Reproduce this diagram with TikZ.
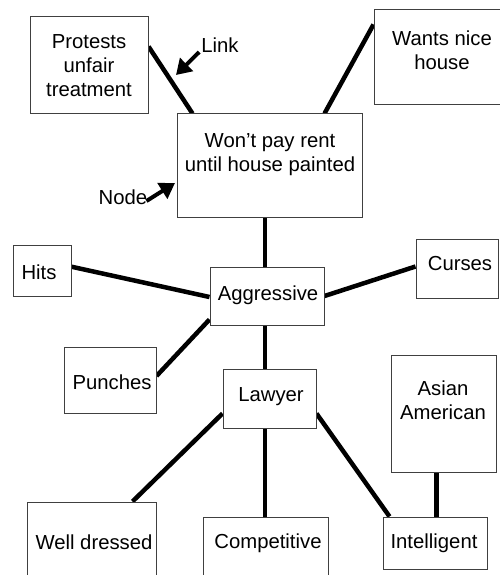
\documentclass[tikz,border=0pt]{standalone}
\usepackage{fontspec}
\setmainfont{Liberation Sans}
\usetikzlibrary{arrows.meta,calc,backgrounds}
\begin{document}
\begin{tikzpicture}[x=1pt,y=-1pt,
  box/.style={draw=black!75,line width=1pt,rectangle,inner sep=0pt,fill=white},
  txt/.style={inner sep=0pt,align=center,text=black,font=\fontsize{20.3}{24}\selectfont},
  conn/.style={line width=4.5pt,draw=black},
  ptr/.style={line width=4pt,draw=black,-{Triangle[length=15pt,width=18pt]}}]
\useasboundingbox (0,0) rectangle (500,575);
\clip (0,0) rectangle (500,575);
% boxes
\node[box,minimum width=118pt,minimum height=97pt] (prot) at (89,65.5) {};
\node[box,minimum width=185pt,minimum height=103pt] (wont) at (269.5,165.5) {};
\node[box,minimum width=136pt,minimum height=95pt] (wants) at (442,57.5) {};
\node[box,minimum width=58pt,minimum height=51pt] (hits) at (42,270.5) {};
\node[box,minimum width=114pt,minimum height=58pt] (aggr) at (267,296) {};
\node[box,minimum width=82pt,minimum height=59pt] (curses) at (457,268.5) {};
\node[box,minimum width=92pt,minimum height=66pt] (punches) at (110,380) {};
\node[box,minimum width=93pt,minimum height=59pt] (lawyer) at (269.5,398.5) {};
\node[box,minimum width=105pt,minimum height=117pt] (asian) at (443.5,413.5) {};
\node[box,minimum width=129pt,minimum height=98pt] (well) at (91.5,551) {};
\node[box,minimum width=125pt,minimum height=83pt] (comp) at (265.5,558.5) {};
\node[box,minimum width=104pt,minimum height=52pt] (intel) at (435,543) {};
% texts
\node[txt] (prot-t) at (89,66) {Protests\\unfair\\treatment};
\node[txt] (wont-t) at (270,155) {Won’t pay rent\\until house painted};
\node[txt] (wants-t) at (442,50) {Wants nice\\house};
\node[txt] (hits-t) at (39,272) {Hits};
\node[txt] (aggr-t) at (268,295) {Aggressive};
\node[txt] (curses-t) at (460,264) {Curses};
\node[txt] (punches-t) at (112,382) {Punches};
\node[txt] (lawyer-t) at (271,397) {Lawyer};
\node[txt] (asian-t) at (443,400) {Asian\\American};
\node[txt] (well-t) at (94,542) {Well dressed};
\node[txt] (comp-t) at (268,543) {Competitive};
\node[txt] (intel-t) at (434,543) {Intelligent};
% labels
\node[txt] (linklbl) at (220,45) {Link};
\node[txt] (nodelbl) at (123,197) {Node};
\coordinate (linktip) at (176,75);
\coordinate (nodetip) at (175,183);
\draw[ptr] ($(linklbl.west)+(-2,7)$) -- (linktip);
\draw[ptr] ($(nodelbl.east)+(-1,4)$) -- (nodetip);
% connectors
\begin{scope}[on background layer]
\draw[conn] ($(prot.north east)+(0,30)$) -- ($(wont.north west)+(16,0)$);
\draw[conn] ($(wants.north west)+(0,15)$) -- ($(wont.north east)+(-38,0)$);
\draw[conn] ($(wont.south)+(-4.5,0)$) -- ($(aggr.north)+(-2,0)$);
\draw[conn] ($(hits.east)+(-1,-4)$) -- ($(aggr.west)+(0,1)$);
\draw[conn] (aggr.east) -- ($(curses.west)+(0,-2)$);
\draw[conn] ($(punches.east)+(0,-4)$) -- ($(aggr.south west)+(0,-6)$);
\draw[conn] ($(aggr.south)+(-2,0)$) -- ($(lawyer.north)+(-4.5,0)$);
\draw[conn] ($(lawyer.west)+(0,15)$) -- ($(well.north)+(41,0)$);
\draw[conn] ($(lawyer.south)+(-4.5,0)$) -- ($(comp.north)+(-0.5,0)$);
\draw[conn] ($(lawyer.east)+(0,15)$) -- ($(intel.north west)+(7,0)$);
\draw[conn] ($(asian.south)+(-7,0)$) -- ($(intel.north)+(1.5,0)$);
\end{scope}
\end{tikzpicture}
\end{document}
